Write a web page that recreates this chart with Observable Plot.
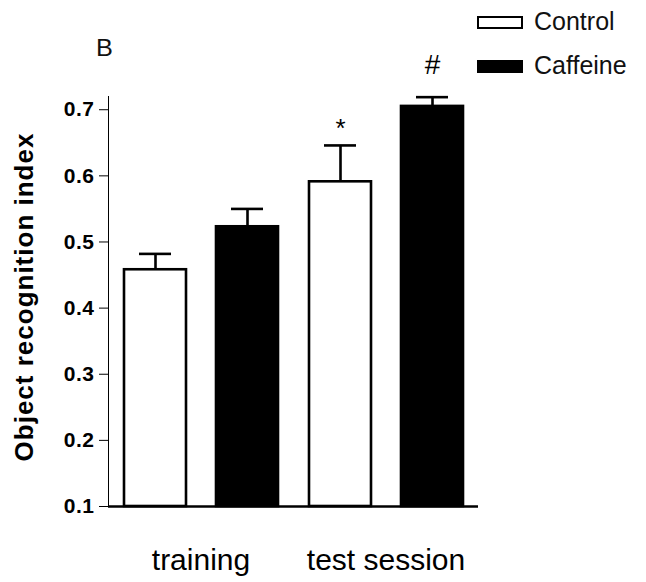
<!DOCTYPE html>
<html>
<head>
<meta charset="utf-8">
<script src="https://cdn.jsdelivr.net/npm/d3@7"></script>
<script src="https://cdn.jsdelivr.net/npm/@observablehq/plot@0.6"></script>
<style>
  html, body { margin: 0; padding: 0; background: #fff; }
  #wrap { position: relative; width: 646px; height: 582px; font-family: "Liberation Sans", Arial, sans-serif; }
  #wrap svg { position: absolute; left: 0; top: 0; }
  #wrap svg text { font-family: "Liberation Sans", Arial, sans-serif; fill: #000; }
  g[aria-label^="y-axis"] text { font-size: 21px !important; font-weight: bold; letter-spacing: 0.5px; }
  g[aria-label^="fx-axis"] text { font-size: 30px !important; font-weight: normal; fill: #111; }
  .lbl { position: absolute; color: #111; white-space: nowrap; }
  .ylabel { position: absolute; left: 24px; top: 297px; transform: translate(-50%, -50%) rotate(-90deg);
            font-weight: bold; font-size: 26px; letter-spacing: 1px; white-space: nowrap; color: #000; }
  .sw { position: absolute; box-sizing: border-box; border: 2.5px solid #000; }
</style>
</head>
<body>
<div id="wrap"></div>
<script>
// ---- data ----
const sessions = ["training", "test session"];
const treatments = ["Control", "Caffeine"];
const controlMeans = [0.458, 0.591];
const caffeineMeans = [0.523, 0.705];
const controlSEM = [0.024, 0.055];
const caffeineSEM = [0.027, 0.014];
const controlSig = ["", "*"];
const caffeineSig = ["", "#"];
const treatmentColors = ["#ffffff", "#000000"];
const yTicks = [0.1, 0.2, 0.3, 0.4, 0.5, 0.6, 0.7];
const yLabel = "Object recognition index";
const panelLabel = "B";

// ---- table built from the arrays ----
const rows = [];
sessions.forEach((s, i) => {
  rows.push({session: s, treatment: "Control", value: controlMeans[i], sem: controlSEM[i], sig: controlSig[i]});
  rows.push({session: s, treatment: "Caffeine", value: caffeineMeans[i], sem: caffeineSEM[i], sig: caffeineSig[i]});
});

const chart = Plot.plot({
  width: 646,
  height: 582,
  marginTop: 96,
  marginBottom: 76,
  marginLeft: 107,
  marginRight: 168,
  facet: {data: rows, x: "session"},
  fx: {domain: sessions, padding: 0, axis: "bottom", label: null, tickSize: 0, tickPadding: 42},
  x: {domain: treatments, paddingInner: 0.33, paddingOuter: 0.17, axis: null},
  y: {domain: [0.1, 0.72], ticks: yTicks, tickFormat: ".1f", tickSize: 9, tickPadding: 5, label: null, line: true},
  color: {domain: treatments, range: treatmentColors},
  style: {fontFamily: "Liberation Sans, Arial, sans-serif", color: "#000", overflow: "visible"},
  marks: [
    Plot.ruleX(rows, {x: "treatment", y1: "value", y2: d => d.value + d.sem, stroke: "#000", strokeWidth: 2.6}),
    Plot.tickY(rows, {x: "treatment", y: d => d.value + d.sem, stroke: "#000", strokeWidth: 2.6, insetLeft: 15, insetRight: 15}),
    Plot.barY(rows, {x: "treatment", y1: d => 0.1, y2: "value", fill: "treatment", stroke: "#000", strokeWidth: 2.6}),
    Plot.ruleY([0.1], {stroke: "#000", strokeWidth: 2.6}),
    Plot.text(rows, {filter: d => d.sig === "*", x: "treatment", y: d => d.value + d.sem, text: "sig", dy: -17, fontSize: 26, fill: "#000"}),
    Plot.text(rows, {filter: d => d.sig === "#", x: "treatment", y: d => d.value + d.sem, text: "sig", dy: -32, fontSize: 28, fill: "#000"})
  ]
});

const wrap = document.getElementById("wrap");
wrap.appendChild(chart);

// panel letter, rotated y label, legend
const b = document.createElement("div");
b.className = "lbl"; b.textContent = panelLabel;
Object.assign(b.style, {left: "96px", top: "35px", fontSize: "23px", transform: "scaleX(1.1)", transformOrigin: "left"});
wrap.appendChild(b);

const yl = document.createElement("div");
yl.className = "ylabel"; yl.textContent = yLabel;
wrap.appendChild(yl);

treatments.forEach((t, i) => {
  const sw = document.createElement("div");
  sw.className = "sw";
  Object.assign(sw.style, {left: "477px", top: (16 + i * 44) + "px", width: "46px", height: "13px", background: treatmentColors[i]});
  wrap.appendChild(sw);
  const tx = document.createElement("div");
  tx.className = "lbl"; tx.textContent = t;
  Object.assign(tx.style, {left: "534px", top: (7 + i * 44) + "px", fontSize: "25px", lineHeight: "28px"});
  wrap.appendChild(tx);
});
</script>
</body>
</html>
